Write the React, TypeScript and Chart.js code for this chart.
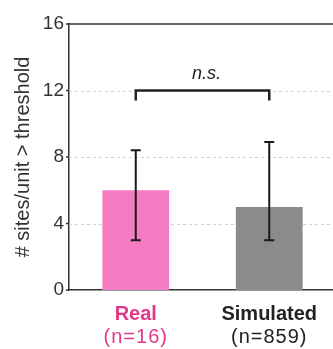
import React, { useEffect, useRef } from "react";
import { Chart, registerables } from "chart.js";

Chart.register(...registerables);

const categories = ["Real", "Simulated"];
const sampleSizes = ["(n=16)", "(n=859)"];
const means = [6, 5];
const errLow = [3, 3];
const errHigh = [8.4, 8.9];
const barColors = ["#f57cc2", "#8c8a8a"];
const labelColors = ["#e2388c", "#222222"];
const yTicks = [0, 4, 8, 12, 16];
const gridValues = [4, 8, 12];
const sigLevel = 12;
const sigText = "n.s.";
const yTitle = "# sites/unit > threshold";

const FONT = "'Liberation Sans', Arial, sans-serif";

const underlay = {
  id: "underlay",
  beforeDatasetsDraw(chart: any) {
    const { ctx, chartArea, scales } = chart;
    const y = scales.y;
    ctx.save();
    ctx.strokeStyle = "#d0d0d0";
    ctx.lineWidth = 1;
    ctx.setLineDash([3, 3]);
    gridValues.forEach((v) => {
      const py = Math.round(y.getPixelForValue(v)) + 0.5;
      ctx.beginPath();
      ctx.moveTo(chartArea.left, py);
      ctx.lineTo(chartArea.right, py);
      ctx.stroke();
    });
    ctx.restore();
  },
};

const overlay = {
  id: "overlay",
  afterDatasetsDraw(chart: any) {
    const { ctx, chartArea, scales } = chart;
    const x = scales.x;
    const y = scales.y;
    ctx.save();
    // top border
    ctx.strokeStyle = "#333";
    ctx.lineWidth = 1.5;
    ctx.beginPath();
    ctx.moveTo(chartArea.left, chartArea.top);
    ctx.lineTo(chartArea.right, chartArea.top);
    ctx.stroke();
    // y tick marks
    yTicks.forEach((v) => {
      const py = y.getPixelForValue(v);
      ctx.beginPath();
      ctx.moveTo(chartArea.left - 3, py);
      ctx.lineTo(chartArea.left, py);
      ctx.stroke();
    });
    // error bars
    ctx.strokeStyle = "#1a1a1a";
    ctx.lineWidth = 2;
    categories.forEach((c, i) => {
      const cx = x.getPixelForValue(i);
      const yl = y.getPixelForValue(errLow[i]);
      const yh = y.getPixelForValue(errHigh[i]);
      ctx.beginPath();
      ctx.moveTo(cx, yl);
      ctx.lineTo(cx, yh);
      ctx.moveTo(cx - 5, yl);
      ctx.lineTo(cx + 5, yl);
      ctx.moveTo(cx - 5, yh);
      ctx.lineTo(cx + 5, yh);
      ctx.stroke();
    });
    // significance bracket
    const x0 = x.getPixelForValue(0);
    const x1 = x.getPixelForValue(1);
    const ys = y.getPixelForValue(sigLevel);
    ctx.strokeStyle = "#222";
    ctx.lineWidth = 2.5;
    ctx.beginPath();
    ctx.moveTo(x0, ys + 10);
    ctx.lineTo(x0, ys);
    ctx.lineTo(x1, ys);
    ctx.lineTo(x1, ys + 10);
    ctx.stroke();
    ctx.fillStyle = "#222";
    ctx.font = `italic 18px ${FONT}`;
    ctx.textAlign = "center";
    ctx.textBaseline = "alphabetic";
    ctx.fillText(sigText, (x0 + x1) / 2 + 4, ys - 12);
    // x labels
    categories.forEach((c, i) => {
      const cx = x.getPixelForValue(i);
      ctx.fillStyle = labelColors[i];
      ctx.textBaseline = "alphabetic";
      ctx.font = `bold 20px ${FONT}`;
      (ctx as any).letterSpacing = "0px";
      ctx.fillText(c, cx, chartArea.bottom + 30);
      ctx.font = `20px ${FONT}`;
      (ctx as any).letterSpacing = "1px";
      ctx.fillText(sampleSizes[i], cx, chartArea.bottom + 53);
    });
    ctx.restore();
  },
};

export default function App() {
  const ref = useRef<HTMLCanvasElement>(null);
  useEffect(() => {
    if (!ref.current) return;
    const chart = new Chart(ref.current, {
      type: "bar",
      data: {
        labels: categories,
        datasets: [
          {
            data: means,
            backgroundColor: barColors,
            borderWidth: 0,
            barPercentage: 0.5,
            categoryPercentage: 1,
          },
        ],
      },
      options: {
        animation: false,
        responsive: false,
        maintainAspectRatio: false,
        layout: { padding: { top: 24, right: 4, left: 0, bottom: 0 } },
        plugins: { legend: { display: false }, tooltip: { enabled: false } },
        scales: {
          x: {
            grid: { display: false, drawTicks: false },
            border: { color: "#333", width: 1.5 },
            ticks: { display: false },
            afterFit(scale: any) {
              scale.height = 59;
            },
          },
          y: {
            min: 0,
            max: 16,
            afterBuildTicks(scale: any) {
              scale.ticks = yTicks.map((v) => ({ value: v }));
            },
            grid: { display: false, drawTicks: false },
            border: { color: "#333", width: 1.5 },
            ticks: {
              color: "#333",
              padding: 5,
              font: { family: FONT, size: 19 },
            },
            title: {
              display: true,
              text: yTitle,
              color: "#333",
              font: { family: FONT, size: 20 },
              padding: { top: 11, bottom: 0 },
            },
            afterFit(scale: any) {
              scale.width = 69;
            },
          },
        },
      },
      plugins: [underlay, overlay],
    });
    return () => chart.destroy();
  }, []);
  return (
    <div style={{ position: "fixed", left: 0, top: 0, width: 333, height: 349, overflow: "hidden", background: "#fff" }}>
      <canvas ref={ref} width={340} height={349} style={{ display: "block" }} />
    </div>
  );
}
